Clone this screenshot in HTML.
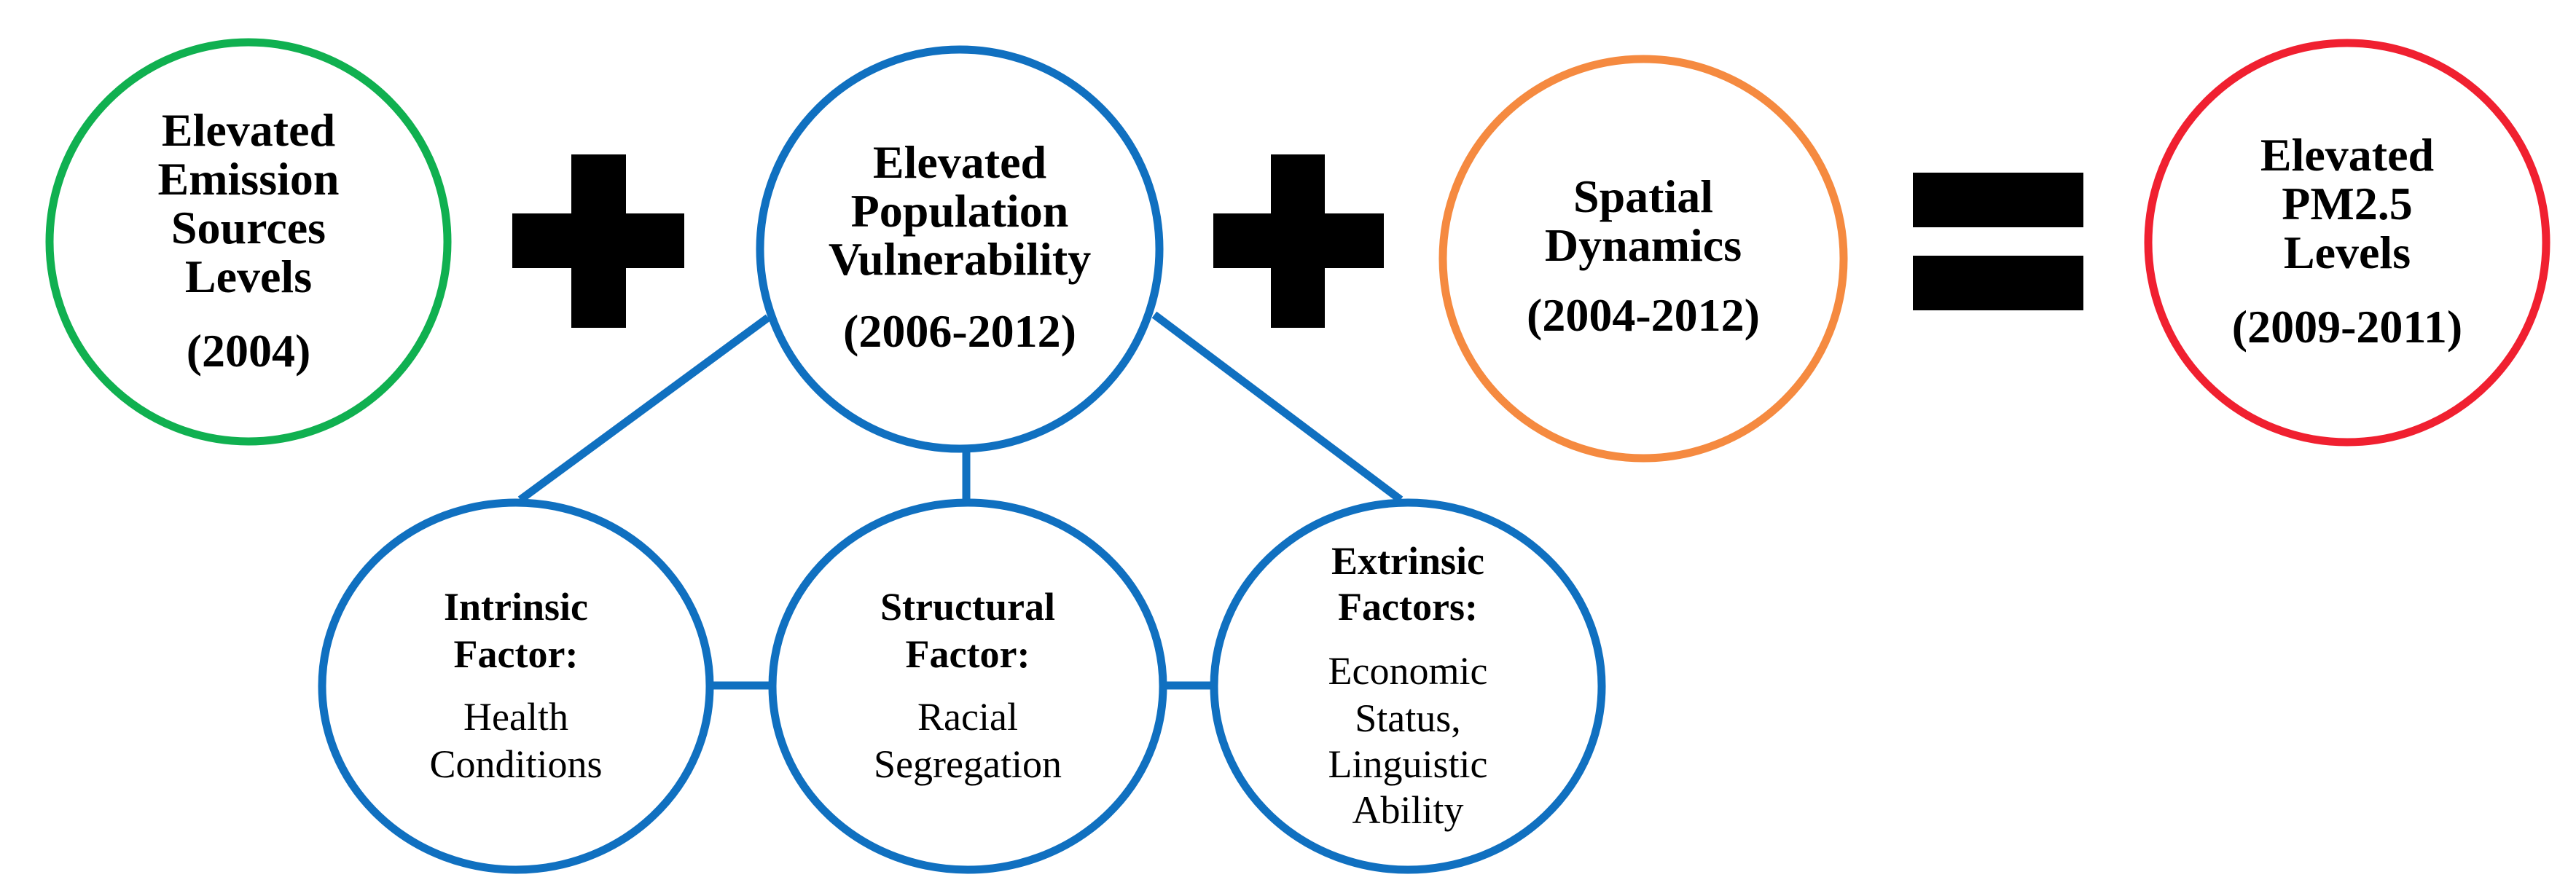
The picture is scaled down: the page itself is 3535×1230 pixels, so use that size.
<!DOCTYPE html>
<html><head><style>html,body{margin:0;padding:0;background:#fff}svg{display:block}</style></head><body>
<svg width="3535" height="1230" viewBox="0 0 3535 1230" xmlns="http://www.w3.org/2000/svg">
<g stroke="#1070c0" stroke-width="11" fill="none">
<line x1="1054" y1="436" x2="714" y2="686"/>
<line x1="1326" y1="621" x2="1326" y2="686"/>
<line x1="1584" y1="432" x2="1922" y2="686"/>
<line x1="975" y1="941" x2="1060" y2="941"/>
<line x1="1595" y1="941" x2="1666" y2="941"/>
<ellipse cx="1317" cy="342" rx="274" ry="274"/>
<ellipse cx="708" cy="942" rx="266" ry="252"/>
<ellipse cx="1328" cy="942" rx="268" ry="252"/>
<ellipse cx="1932" cy="942" rx="266" ry="252"/>
</g>
<ellipse cx="341" cy="332" rx="273" ry="274" stroke="#10b050" stroke-width="11" fill="none"/>
<ellipse cx="2255" cy="355" rx="275" ry="274" stroke="#f58a40" stroke-width="11" fill="none"/>
<ellipse cx="3221" cy="333" rx="273" ry="274" stroke="#f02030" stroke-width="11" fill="none"/>
<g fill="#000">
<rect x="703" y="293" width="236" height="75"/><rect x="784" y="212" width="75" height="238"/>
<rect x="1665" y="293" width="234" height="75"/><rect x="1744" y="212" width="74" height="238"/>
<rect x="2625" y="237" width="234" height="75"/><rect x="2625" y="351" width="234" height="75"/>
</g>
<g font-family="'Liberation Serif', serif" font-weight="bold" font-size="64" text-anchor="middle" fill="#000">
<text x="341" y="200">Elevated</text><text x="341" y="267">Emission</text><text x="341" y="334">Sources</text><text x="341" y="401">Levels</text><text x="341" y="503">(2004)</text>
<text x="1317" y="244">Elevated</text><text x="1317" y="311">Population</text><text x="1317" y="377">Vulnerability</text><text x="1317" y="476">(2006-2012)</text>
<text x="2255" y="291">Spatial</text><text x="2255" y="358">Dynamics</text><text x="2255" y="454">(2004-2012)</text>
<text x="3221" y="234">Elevated</text><text x="3221" y="301">PM2.5</text><text x="3221" y="368">Levels</text><text x="3221" y="470">(2009-2011)</text>
</g>
<g font-family="'Liberation Serif', serif" font-size="54" text-anchor="middle" fill="#000">
<g font-weight="bold">
<text x="708" y="851">Intrinsic</text><text x="708" y="916">Factor:</text>
<text x="1328" y="851">Structural</text><text x="1328" y="916">Factor:</text>
<text x="1932" y="788">Extrinsic</text><text x="1932" y="851">Factors:</text>
</g>
<text x="708" y="1002">Health</text><text x="708" y="1067">Conditions</text>
<text x="1328" y="1002">Racial</text><text x="1328" y="1067">Segregation</text>
<text x="1932" y="939">Economic</text><text x="1932" y="1004">Status,</text><text x="1932" y="1067">Linguistic</text><text x="1932" y="1130">Ability</text>
</g>
</svg>
</body></html>
